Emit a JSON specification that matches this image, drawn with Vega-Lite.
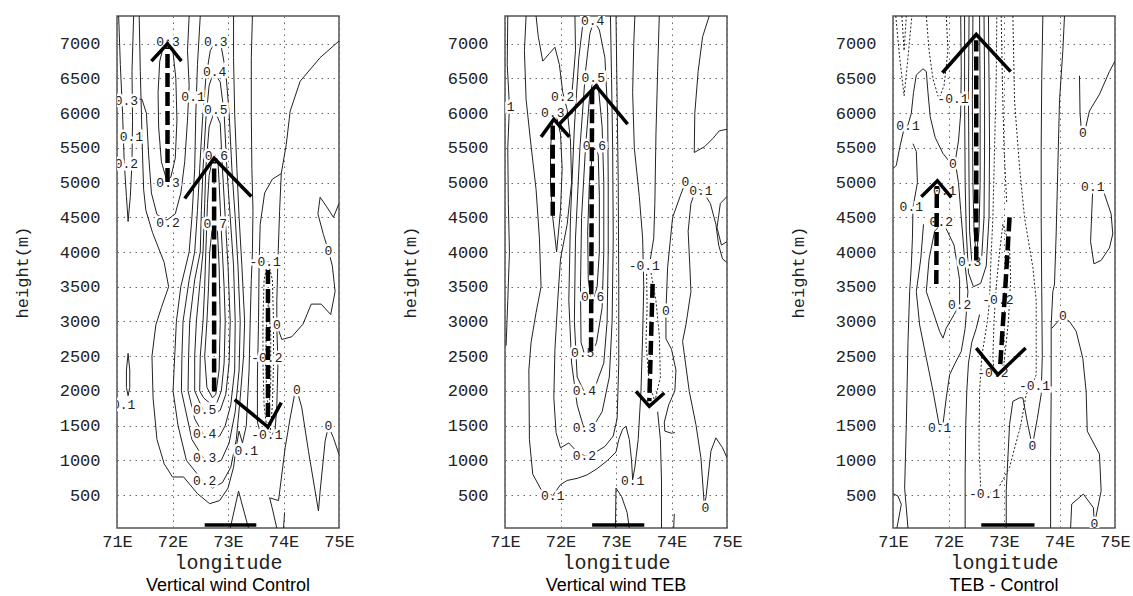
{
"$schema": "https://vega.github.io/schema/vega-lite/v6.json",
"autosize": {"type": "pad"},
"padding": {"left": 12, "top": 15, "right": 2, "bottom": 0},
"background": "white",
"spacing": 166,
"bounds": "flush",
"config": {
  "view": {"stroke": "#555", "strokeWidth": 1.5},
  "axis": {"domain": false, "ticks": false, "grid": true, "gridColor": "#666", "gridDash": [1.5, 4.5], "gridWidth": 1, "labelFont": "Liberation Mono", "labelFontSize": 17, "labelColor": "#222", "titleFont": "Liberation Mono", "titleFontWeight": "normal", "titleColor": "#222", "labelOverlap": false},
  "axisX": {"labelPadding": 5, "titleFontSize": 20, "titlePadding": 3, "labelFlush": false},
  "axisY": {"labelPadding": 17, "titleFontSize": 17, "titleX": -95, "titleY": 256, "titleAlign": "center", "titleBaseline": "middle", "format": "d"},
  "title": {"font": "Liberation Sans", "fontSize": 18, "fontWeight": "normal", "color": "#000", "offset": 5}
},
"datasets": {
"cl": [
{"p":1,"g":"a","x":71.03,"y":7400},{"p":1,"g":"a","x":71.06,"y":6700},{"p":1,"g":"a","x":71.1,"y":6000},{"p":1,"g":"a","x":71.13,"y":5300},{"p":1,"g":"a","x":71.17,"y":4800},{"p":1,"g":"a","x":71.2,"y":4440},{"p":1,"g":"a","x":71.24,"y":4800},{"p":1,"g":"a","x":71.27,"y":5300},{"p":1,"g":"a","x":71.28,"y":5900},{"p":1,"g":"a","x":71.27,"y":6600},{"p":1,"g":"a","x":71.3,"y":7400},
{"p":1,"g":"b","x":71.33,"y":6210},{"p":1,"g":"b","x":71.45,"y":6200},{"p":1,"g":"b","x":71.53,"y":6000},{"p":1,"g":"b","x":71.57,"y":5400},{"p":1,"g":"b","x":71.62,"y":4850},{"p":1,"g":"b","x":71.72,"y":4540},{"p":1,"g":"b","x":71.9,"y":4460},{"p":1,"g":"b","x":72.05,"y":4550},{"p":1,"g":"b","x":72.15,"y":4850},{"p":1,"g":"b","x":72.22,"y":5300},{"p":1,"g":"b","x":72.27,"y":5900},{"p":1,"g":"b","x":72.3,"y":6400},{"p":1,"g":"b","x":72.27,"y":6900},{"p":1,"g":"b","x":72.3,"y":7400},
{"p":1,"g":"c","x":71.9,"y":5020},{"p":1,"g":"c","x":71.8,"y":5300},{"p":1,"g":"c","x":71.75,"y":5800},{"p":1,"g":"c","x":71.74,"y":6300},{"p":1,"g":"c","x":71.77,"y":6750},{"p":1,"g":"c","x":71.85,"y":7000},{"p":1,"g":"c","x":71.92,"y":7060},{"p":1,"g":"c","x":72.0,"y":6950},{"p":1,"g":"c","x":72.06,"y":6500},{"p":1,"g":"c","x":72.08,"y":5900},{"p":1,"g":"c","x":72.05,"y":5350},{"p":1,"g":"c","x":71.97,"y":5080},{"p":1,"g":"c","x":71.9,"y":5020},
{"p":1,"g":"d","x":71.2,"y":2540},{"p":1,"g":"d","x":71.17,"y":2300},{"p":1,"g":"d","x":71.17,"y":2050},{"p":1,"g":"d","x":71.2,"y":1930},{"p":1,"g":"d","x":71.23,"y":2050},{"p":1,"g":"d","x":71.23,"y":2300},{"p":1,"g":"d","x":71.2,"y":2540},
{"p":1,"g":"e","x":72.72,"y":1900},{"p":1,"g":"e","x":72.62,"y":2050},{"p":1,"g":"e","x":72.58,"y":2500},{"p":1,"g":"e","x":72.62,"y":3000},{"p":1,"g":"e","x":72.65,"y":3500},{"p":1,"g":"e","x":72.67,"y":4000},{"p":1,"g":"e","x":72.71,"y":4300},{"p":1,"g":"e","x":72.76,"y":4400},{"p":1,"g":"e","x":72.81,"y":4300},{"p":1,"g":"e","x":72.84,"y":3800},{"p":1,"g":"e","x":72.86,"y":3000},{"p":1,"g":"e","x":72.84,"y":2300},{"p":1,"g":"e","x":72.78,"y":1950},{"p":1,"g":"e","x":72.72,"y":1900},
{"p":1,"g":"f","x":72.72,"y":1790},{"p":1,"g":"f","x":72.56,"y":1900},{"p":1,"g":"f","x":72.49,"y":2000},{"p":1,"g":"f","x":72.5,"y":2500},{"p":1,"g":"f","x":72.55,"y":3000},{"p":1,"g":"f","x":72.58,"y":3500},{"p":1,"g":"f","x":72.6,"y":4000},{"p":1,"g":"f","x":72.63,"y":4700},{"p":1,"g":"f","x":72.66,"y":5100},{"p":1,"g":"f","x":72.72,"y":5350},{"p":1,"g":"f","x":72.77,"y":5390},{"p":1,"g":"f","x":72.82,"y":5300},{"p":1,"g":"f","x":72.84,"y":5000},{"p":1,"g":"f","x":72.88,"y":4300},{"p":1,"g":"f","x":72.93,"y":3500},{"p":1,"g":"f","x":72.95,"y":3000},{"p":1,"g":"f","x":72.93,"y":2400},{"p":1,"g":"f","x":72.88,"y":2000},{"p":1,"g":"f","x":72.8,"y":1830},{"p":1,"g":"f","x":72.72,"y":1790},
{"p":1,"g":"g","x":72.7,"y":1650},{"p":1,"g":"g","x":72.55,"y":1720},{"p":1,"g":"g","x":72.4,"y":2000},{"p":1,"g":"g","x":72.4,"y":2500},{"p":1,"g":"g","x":72.43,"y":3000},{"p":1,"g":"g","x":72.5,"y":3600},{"p":1,"g":"g","x":72.55,"y":4000},{"p":1,"g":"g","x":72.58,"y":4700},{"p":1,"g":"g","x":72.6,"y":5200},{"p":1,"g":"g","x":72.66,"y":5800},{"p":1,"g":"g","x":72.76,"y":6040},{"p":1,"g":"g","x":72.86,"y":5850},{"p":1,"g":"g","x":72.9,"y":5200},{"p":1,"g":"g","x":72.95,"y":4500},{"p":1,"g":"g","x":73.0,"y":3800},{"p":1,"g":"g","x":73.04,"y":3000},{"p":1,"g":"g","x":73.02,"y":2400},{"p":1,"g":"g","x":72.96,"y":1950},{"p":1,"g":"g","x":72.86,"y":1720},{"p":1,"g":"g","x":72.7,"y":1650},
{"p":1,"g":"h","x":72.72,"y":1300},{"p":1,"g":"h","x":72.55,"y":1380},{"p":1,"g":"h","x":72.4,"y":1600},{"p":1,"g":"h","x":72.28,"y":2000},{"p":1,"g":"h","x":72.29,"y":2500},{"p":1,"g":"h","x":72.31,"y":3000},{"p":1,"g":"h","x":72.4,"y":3600},{"p":1,"g":"h","x":72.5,"y":4000},{"p":1,"g":"h","x":72.52,"y":4600},{"p":1,"g":"h","x":72.55,"y":5200},{"p":1,"g":"h","x":72.6,"y":5900},{"p":1,"g":"h","x":72.66,"y":6400},{"p":1,"g":"h","x":72.74,"y":6590},{"p":1,"g":"h","x":72.86,"y":6450},{"p":1,"g":"h","x":72.93,"y":6000},{"p":1,"g":"h","x":72.98,"y":5200},{"p":1,"g":"h","x":73.04,"y":4500},{"p":1,"g":"h","x":73.1,"y":3800},{"p":1,"g":"h","x":73.13,"y":3000},{"p":1,"g":"h","x":73.12,"y":2300},{"p":1,"g":"h","x":73.05,"y":1800},{"p":1,"g":"h","x":72.95,"y":1500},{"p":1,"g":"h","x":72.85,"y":1350},{"p":1,"g":"h","x":72.72,"y":1300},
{"p":1,"g":"i","x":72.72,"y":950},{"p":1,"g":"i","x":72.55,"y":1040},{"p":1,"g":"i","x":72.35,"y":1300},{"p":1,"g":"i","x":72.16,"y":2000},{"p":1,"g":"i","x":72.17,"y":2500},{"p":1,"g":"i","x":72.19,"y":3000},{"p":1,"g":"i","x":72.3,"y":3600},{"p":1,"g":"i","x":72.4,"y":4000},{"p":1,"g":"i","x":72.45,"y":4600},{"p":1,"g":"i","x":72.49,"y":5200},{"p":1,"g":"i","x":72.54,"y":5900},{"p":1,"g":"i","x":72.6,"y":6500},{"p":1,"g":"i","x":72.68,"y":6900},{"p":1,"g":"i","x":72.76,"y":7020},{"p":1,"g":"i","x":72.88,"y":6950},{"p":1,"g":"i","x":72.96,"y":6600},{"p":1,"g":"i","x":73.02,"y":6000},{"p":1,"g":"i","x":73.07,"y":5200},{"p":1,"g":"i","x":73.13,"y":4500},{"p":1,"g":"i","x":73.18,"y":3800},{"p":1,"g":"i","x":73.22,"y":3000},{"p":1,"g":"i","x":73.2,"y":2300},{"p":1,"g":"i","x":73.13,"y":1700},{"p":1,"g":"i","x":73.02,"y":1250},{"p":1,"g":"i","x":72.88,"y":1000},{"p":1,"g":"i","x":72.72,"y":950},
{"p":1,"g":"j","x":72.5,"y":7400},{"p":1,"g":"j","x":72.45,"y":6700},{"p":1,"g":"j","x":72.42,"y":6000},{"p":1,"g":"j","x":72.4,"y":5200},{"p":1,"g":"j","x":72.35,"y":4500},{"p":1,"g":"j","x":72.3,"y":4000},{"p":1,"g":"j","x":72.15,"y":3500},{"p":1,"g":"j","x":72.07,"y":3000},{"p":1,"g":"j","x":72.01,"y":2000},{"p":1,"g":"j","x":72.1,"y":1500},{"p":1,"g":"j","x":72.25,"y":1000},{"p":1,"g":"j","x":72.55,"y":700},{"p":1,"g":"j","x":72.72,"y":600},{"p":1,"g":"j","x":72.9,"y":680},{"p":1,"g":"j","x":73.05,"y":900},{"p":1,"g":"j","x":73.15,"y":1300},{"p":1,"g":"j","x":73.22,"y":1900},{"p":1,"g":"j","x":73.28,"y":2500},{"p":1,"g":"j","x":73.3,"y":3000},{"p":1,"g":"j","x":73.25,"y":3800},{"p":1,"g":"j","x":73.2,"y":4500},{"p":1,"g":"j","x":73.16,"y":5200},{"p":1,"g":"j","x":73.12,"y":6000},{"p":1,"g":"j","x":73.1,"y":6800},{"p":1,"g":"j","x":73.1,"y":7400},
{"p":1,"g":"k","x":71.4,"y":7400},{"p":1,"g":"k","x":71.42,"y":6600},{"p":1,"g":"k","x":71.44,"y":6000},{"p":1,"g":"k","x":71.46,"y":5400},{"p":1,"g":"k","x":71.48,"y":4900},{"p":1,"g":"k","x":71.52,"y":4600},{"p":1,"g":"k","x":71.64,"y":4280},{"p":1,"g":"k","x":71.85,"y":3850},{"p":1,"g":"k","x":71.93,"y":3500},{"p":1,"g":"k","x":71.8,"y":3200},{"p":1,"g":"k","x":71.7,"y":2950},{"p":1,"g":"k","x":71.63,"y":2500},{"p":1,"g":"k","x":71.65,"y":1900},{"p":1,"g":"k","x":71.72,"y":1300},{"p":1,"g":"k","x":71.85,"y":950},{"p":1,"g":"k","x":72.0,"y":760},{"p":1,"g":"k","x":72.2,"y":760},{"p":1,"g":"k","x":72.45,"y":520},{"p":1,"g":"k","x":72.67,"y":375},{"p":1,"g":"k","x":72.85,"y":420},{"p":1,"g":"k","x":73.0,"y":600},{"p":1,"g":"k","x":73.1,"y":900},{"p":1,"g":"k","x":73.15,"y":1200},{"p":1,"g":"k","x":73.2,"y":1420},{"p":1,"g":"k","x":73.26,"y":1250},{"p":1,"g":"k","x":73.33,"y":1500},{"p":1,"g":"k","x":73.38,"y":2300},{"p":1,"g":"k","x":73.4,"y":3000},{"p":1,"g":"k","x":73.42,"y":3600},{"p":1,"g":"k","x":73.44,"y":4000},{"p":1,"g":"k","x":73.45,"y":4600},{"p":1,"g":"k","x":73.43,"y":5200},{"p":1,"g":"k","x":73.42,"y":6000},{"p":1,"g":"k","x":73.42,"y":6800},{"p":1,"g":"k","x":73.44,"y":7400},
{"p":1,"g":"l","x":75,"y":7040},{"p":1,"g":"l","x":74.66,"y":6800},{"p":1,"g":"l","x":74.3,"y":6460},{"p":1,"g":"l","x":74.12,"y":6030},{"p":1,"g":"l","x":74.05,"y":5550},{"p":1,"g":"l","x":73.96,"y":5130},{"p":1,"g":"l","x":73.93,"y":4600},{"p":1,"g":"l","x":73.9,"y":3900},{"p":1,"g":"l","x":73.88,"y":3300},{"p":1,"g":"l","x":73.88,"y":3000},
{"p":1,"g":"m","x":73.88,"y":2900},{"p":1,"g":"m","x":73.9,"y":2400},{"p":1,"g":"m","x":73.88,"y":1800},{"p":1,"g":"m","x":73.85,"y":1450},{"p":1,"g":"m","x":73.75,"y":1300},{"p":1,"g":"m","x":73.6,"y":1350},{"p":1,"g":"m","x":73.53,"y":1550},{"p":1,"g":"m","x":73.53,"y":2200},{"p":1,"g":"m","x":73.55,"y":3000},{"p":1,"g":"m","x":73.56,"y":3800},{"p":1,"g":"m","x":73.58,"y":4400},{"p":1,"g":"m","x":73.66,"y":4850},{"p":1,"g":"m","x":73.8,"y":5050},{"p":1,"g":"m","x":73.96,"y":5130},
{"p":1,"g":"n","x":73.9,"y":2900},{"p":1,"g":"n","x":73.97,"y":2740},{"p":1,"g":"n","x":74.15,"y":2780},{"p":1,"g":"n","x":74.35,"y":2960},{"p":1,"g":"n","x":74.5,"y":3250},{"p":1,"g":"n","x":74.68,"y":3250},{"p":1,"g":"n","x":74.85,"y":3100},{"p":1,"g":"n","x":74.93,"y":3431},{"p":1,"g":"n","x":74.88,"y":3800},{"p":1,"g":"n","x":74.81,"y":4021},{"p":1,"g":"n","x":74.72,"y":4250},{"p":1,"g":"n","x":74.62,"y":4550},{"p":1,"g":"n","x":74.66,"y":4790},{"p":1,"g":"n","x":74.78,"y":4650},{"p":1,"g":"n","x":74.9,"y":4500},{"p":1,"g":"n","x":75,"y":4700},
{"p":1,"g":"o","x":73.88,"y":20},{"p":1,"g":"o","x":73.8,"y":300},{"p":1,"g":"o","x":73.75,"y":460},{"p":1,"g":"o","x":73.91,"y":420},{"p":1,"g":"o","x":74.03,"y":1180},{"p":1,"g":"o","x":74.12,"y":1610},{"p":1,"g":"o","x":74.21,"y":1990},{"p":1,"g":"o","x":74.24,"y":2020},{"p":1,"g":"o","x":74.33,"y":1755},{"p":1,"g":"o","x":74.45,"y":1130},{"p":1,"g":"o","x":74.57,"y":557},{"p":1,"g":"o","x":74.63,"y":270},{"p":1,"g":"o","x":74.66,"y":557},{"p":1,"g":"o","x":74.75,"y":1276},{"p":1,"g":"o","x":74.81,"y":1491},{"p":1,"g":"o","x":74.9,"y":1324},{"p":1,"g":"o","x":75,"y":1084},
{"p":1,"g":"q","x":73.04,"y":20},{"p":1,"g":"q","x":73.19,"y":557},{"p":1,"g":"q","x":73.37,"y":20},
{"p":1,"g":"r","x":74.0,"y":20},{"p":1,"g":"r","x":74.02,"y":250},

{"p":2,"g":"a","x":71.05,"y":7400},{"p":2,"g":"a","x":71.04,"y":6700},{"p":2,"g":"a","x":71.08,"y":6100},{"p":2,"g":"a","x":71.05,"y":5500},{"p":2,"g":"a","x":71.06,"y":4700},{"p":2,"g":"a","x":71.08,"y":4000},{"p":2,"g":"a","x":71.05,"y":3300},{"p":2,"g":"a","x":71.02,"y":2650},
{"p":2,"g":"b","x":71.38,"y":7400},{"p":2,"g":"b","x":71.35,"y":6900},{"p":2,"g":"b","x":71.38,"y":6200},{"p":2,"g":"b","x":71.46,"y":5600},{"p":2,"g":"b","x":71.56,"y":4900},{"p":2,"g":"b","x":71.62,"y":4200},{"p":2,"g":"b","x":71.65,"y":3500},{"p":2,"g":"b","x":71.56,"y":3130},{"p":2,"g":"b","x":71.47,"y":2700},{"p":2,"g":"b","x":71.43,"y":2300},{"p":2,"g":"b","x":71.44,"y":1300},{"p":2,"g":"b","x":71.5,"y":800},{"p":2,"g":"b","x":71.65,"y":580},{"p":2,"g":"b","x":71.86,"y":490},{"p":2,"g":"b","x":72.0,"y":650},{"p":2,"g":"b","x":72.12,"y":710},{"p":2,"g":"b","x":72.3,"y":740},{"p":2,"g":"b","x":72.48,"y":790},{"p":2,"g":"b","x":72.66,"y":880},{"p":2,"g":"b","x":72.85,"y":1000},{"p":2,"g":"b","x":73.0,"y":1120},{"p":2,"g":"b","x":73.05,"y":1300},{"p":2,"g":"b","x":73.12,"y":1450},{"p":2,"g":"b","x":73.18,"y":1490},{"p":2,"g":"b","x":73.24,"y":1300},{"p":2,"g":"b","x":73.28,"y":1000},{"p":2,"g":"b","x":73.3,"y":720},{"p":2,"g":"b","x":73.34,"y":900},{"p":2,"g":"b","x":73.4,"y":1300},{"p":2,"g":"b","x":73.45,"y":2000},{"p":2,"g":"b","x":73.48,"y":2800},{"p":2,"g":"b","x":73.5,"y":3500},{"p":2,"g":"b","x":73.48,"y":4200},{"p":2,"g":"b","x":73.42,"y":4800},{"p":2,"g":"b","x":73.33,"y":5500},{"p":2,"g":"b","x":73.3,"y":6300},{"p":2,"g":"b","x":73.32,"y":7000},{"p":2,"g":"b","x":73.34,"y":7400},
{"p":2,"g":"c","x":71.56,"y":7400},{"p":2,"g":"c","x":71.6,"y":7100},{"p":2,"g":"c","x":71.68,"y":6750},{"p":2,"g":"c","x":71.8,"y":6860},{"p":2,"g":"c","x":71.9,"y":6950},{"p":2,"g":"c","x":71.98,"y":6700},{"p":2,"g":"c","x":72.04,"y":6300},{"p":2,"g":"c","x":72.12,"y":6050},{"p":2,"g":"c","x":72.18,"y":5600},{"p":2,"g":"c","x":72.2,"y":5000},{"p":2,"g":"c","x":72.12,"y":4400},{"p":2,"g":"c","x":72.0,"y":3900},{"p":2,"g":"c","x":71.95,"y":3300},{"p":2,"g":"c","x":71.9,"y":2600},{"p":2,"g":"c","x":71.88,"y":1900},{"p":2,"g":"c","x":71.92,"y":1400},{"p":2,"g":"c","x":72.0,"y":1180},{"p":2,"g":"c","x":72.15,"y":1250},{"p":2,"g":"c","x":72.3,"y":1120},{"p":2,"g":"c","x":72.45,"y":1060},{"p":2,"g":"c","x":72.6,"y":1100},{"p":2,"g":"c","x":72.8,"y":1200},{"p":2,"g":"c","x":72.95,"y":1350},{"p":2,"g":"c","x":73.02,"y":1600},{"p":2,"g":"c","x":73.05,"y":2400},{"p":2,"g":"c","x":73.05,"y":3500},{"p":2,"g":"c","x":73.04,"y":5000},{"p":2,"g":"c","x":73.02,"y":6200},{"p":2,"g":"c","x":73.0,"y":7400},
{"p":2,"g":"d","x":71.93,"y":4000},{"p":2,"g":"d","x":71.86,"y":4500},{"p":2,"g":"d","x":71.82,"y":5000},{"p":2,"g":"d","x":71.82,"y":5500},{"p":2,"g":"d","x":71.86,"y":5900},{"p":2,"g":"d","x":71.93,"y":5950},{"p":2,"g":"d","x":72.0,"y":5700},{"p":2,"g":"d","x":72.03,"y":5200},{"p":2,"g":"d","x":72.0,"y":4600},{"p":2,"g":"d","x":71.93,"y":4000},
{"p":2,"g":"e","x":72.55,"y":3300},{"p":2,"g":"e","x":72.5,"y":3600},{"p":2,"g":"e","x":72.49,"y":4300},{"p":2,"g":"e","x":72.52,"y":5000},{"p":2,"g":"e","x":72.58,"y":5450},{"p":2,"g":"e","x":72.62,"y":5530},{"p":2,"g":"e","x":72.68,"y":5400},{"p":2,"g":"e","x":72.7,"y":4800},{"p":2,"g":"e","x":72.7,"y":4000},{"p":2,"g":"e","x":72.66,"y":3500},{"p":2,"g":"e","x":72.6,"y":3320},{"p":2,"g":"e","x":72.55,"y":3300},
{"p":2,"g":"f","x":72.45,"y":2480},{"p":2,"g":"f","x":72.37,"y":2700},{"p":2,"g":"f","x":72.36,"y":3500},{"p":2,"g":"f","x":72.38,"y":4500},{"p":2,"g":"f","x":72.45,"y":5500},{"p":2,"g":"f","x":72.52,"y":6200},{"p":2,"g":"f","x":72.59,"y":6500},{"p":2,"g":"f","x":72.68,"y":6400},{"p":2,"g":"f","x":72.75,"y":5800},{"p":2,"g":"f","x":72.78,"y":5000},{"p":2,"g":"f","x":72.78,"y":4000},{"p":2,"g":"f","x":72.75,"y":3200},{"p":2,"g":"f","x":72.65,"y":2700},{"p":2,"g":"f","x":72.55,"y":2500},{"p":2,"g":"f","x":72.45,"y":2480},
{"p":2,"g":"g","x":72.45,"y":1950},{"p":2,"g":"g","x":72.3,"y":2200},{"p":2,"g":"g","x":72.25,"y":3000},{"p":2,"g":"g","x":72.27,"y":4200},{"p":2,"g":"g","x":72.35,"y":5500},{"p":2,"g":"g","x":72.45,"y":6600},{"p":2,"g":"g","x":72.53,"y":7150},{"p":2,"g":"g","x":72.6,"y":7330},{"p":2,"g":"g","x":72.7,"y":7200},{"p":2,"g":"g","x":72.8,"y":6800},{"p":2,"g":"g","x":72.85,"y":6000},{"p":2,"g":"g","x":72.86,"y":5000},{"p":2,"g":"g","x":72.86,"y":4000},{"p":2,"g":"g","x":72.84,"y":3000},{"p":2,"g":"g","x":72.78,"y":2400},{"p":2,"g":"g","x":72.62,"y":2050},{"p":2,"g":"g","x":72.45,"y":1950},
{"p":2,"g":"h","x":72.42,"y":7400},{"p":2,"g":"h","x":72.33,"y":6800},{"p":2,"g":"h","x":72.25,"y":5800},{"p":2,"g":"h","x":72.18,"y":4500},{"p":2,"g":"h","x":72.15,"y":3300},{"p":2,"g":"h","x":72.2,"y":2400},{"p":2,"g":"h","x":72.3,"y":1800},{"p":2,"g":"h","x":72.43,"y":1440},{"p":2,"g":"h","x":72.6,"y":1500},{"p":2,"g":"h","x":72.75,"y":1700},{"p":2,"g":"h","x":72.88,"y":2200},{"p":2,"g":"h","x":72.93,"y":3000},{"p":2,"g":"h","x":72.95,"y":4200},{"p":2,"g":"h","x":72.94,"y":5500},{"p":2,"g":"h","x":72.92,"y":6500},{"p":2,"g":"h","x":72.9,"y":7400},
{"p":2,"g":"i","x":72.26,"y":7400},{"p":2,"g":"i","x":72.27,"y":6900},{"p":2,"g":"i","x":72.23,"y":6500},{"p":2,"g":"i","x":72.2,"y":6250},
{"p":2,"g":"k","x":73.78,"y":7400},{"p":2,"g":"k","x":73.75,"y":6600},{"p":2,"g":"k","x":73.72,"y":5700},{"p":2,"g":"k","x":73.7,"y":4700},{"p":2,"g":"k","x":73.68,"y":4200},{"p":2,"g":"k","x":73.62,"y":3900},
{"p":2,"g":"m","x":74.25,"y":5003},{"p":2,"g":"m","x":74.17,"y":4835},{"p":2,"g":"m","x":74.02,"y":4500},{"p":2,"g":"m","x":73.93,"y":3781},{"p":2,"g":"m","x":73.9,"y":3144},{"p":2,"g":"m","x":73.9,"y":2750},{"p":2,"g":"m","x":74.0,"y":2600},{"p":2,"g":"m","x":74.08,"y":2300},{"p":2,"g":"m","x":74.06,"y":2000},{"p":2,"g":"m","x":73.95,"y":1800},{"p":2,"g":"m","x":73.87,"y":1550},{"p":2,"g":"m","x":73.88,"y":1420},{"p":2,"g":"m","x":74.0,"y":1390},{"p":2,"g":"m","x":74.06,"y":1400},
{"p":2,"g":"n","x":75,"y":1036},{"p":2,"g":"n","x":74.92,"y":1180},{"p":2,"g":"n","x":74.8,"y":1324},{"p":2,"g":"n","x":74.71,"y":1132},{"p":2,"g":"n","x":74.62,"y":461},{"p":2,"g":"n","x":74.59,"y":365},{"p":2,"g":"n","x":74.53,"y":1036},{"p":2,"g":"n","x":74.44,"y":1515},{"p":2,"g":"n","x":74.32,"y":1994},{"p":2,"g":"n","x":74.2,"y":2713},{"p":2,"g":"n","x":74.26,"y":2952},{"p":2,"g":"n","x":74.35,"y":3431},{"p":2,"g":"n","x":74.33,"y":3800},{"p":2,"g":"n","x":74.3,"y":4300},{"p":2,"g":"n","x":74.35,"y":4700},{"p":2,"g":"n","x":74.45,"y":4920},{"p":2,"g":"n","x":74.56,"y":4880},{"p":2,"g":"n","x":74.7,"y":4700},{"p":2,"g":"n","x":74.8,"y":4400},{"p":2,"g":"n","x":74.85,"y":4100},{"p":2,"g":"n","x":74.92,"y":3900},{"p":2,"g":"n","x":75,"y":3850},
{"p":2,"g":"o","x":75,"y":4800},{"p":2,"g":"o","x":74.88,"y":4700},{"p":2,"g":"o","x":74.82,"y":4350},{"p":2,"g":"o","x":74.9,"y":4100},{"p":2,"g":"o","x":75,"y":4150},
{"p":2,"g":"pp","x":74.68,"y":7400},{"p":2,"g":"pp","x":74.56,"y":7100},{"p":2,"g":"pp","x":74.48,"y":6600},{"p":2,"g":"pp","x":74.42,"y":6000},{"p":2,"g":"pp","x":74.41,"y":5434},{"p":2,"g":"pp","x":74.6,"y":5520},{"p":2,"g":"pp","x":74.75,"y":5640},{"p":2,"g":"pp","x":74.86,"y":5745},{"p":2,"g":"pp","x":75,"y":5769},
{"p":2,"g":"q","x":72.99,"y":20},{"p":2,"g":"q","x":73.0,"y":600},{"p":2,"g":"q","x":73.1,"y":480},{"p":2,"g":"q","x":73.2,"y":250},{"p":2,"g":"q","x":73.24,"y":20},
{"p":2,"g":"r","x":73.82,"y":20},{"p":2,"g":"r","x":73.82,"y":700},{"p":2,"g":"r","x":73.8,"y":1300},{"p":2,"g":"r","x":73.75,"y":1700},
{"p":2,"g":"s","x":74.04,"y":20},{"p":2,"g":"s","x":74.05,"y":230},

{"p":3,"g":"a","x":71.0,"y":5200},{"p":3,"g":"a","x":71.06,"y":5250},{"p":3,"g":"a","x":71.12,"y":5500},{"p":3,"g":"a","x":71.2,"y":5780},{"p":3,"g":"a","x":71.27,"y":5830},{"p":3,"g":"a","x":71.33,"y":6000},{"p":3,"g":"a","x":71.37,"y":6300},{"p":3,"g":"a","x":71.42,"y":6550},{"p":3,"g":"a","x":71.54,"y":6640},{"p":3,"g":"a","x":71.6,"y":6600},{"p":3,"g":"a","x":71.63,"y":6300},{"p":3,"g":"a","x":71.67,"y":5950},{"p":3,"g":"a","x":71.76,"y":5650},{"p":3,"g":"a","x":71.9,"y":5420},{"p":3,"g":"a","x":72.05,"y":5270},{"p":3,"g":"a","x":72.12,"y":5300},{"p":3,"g":"a","x":72.18,"y":5600},{"p":3,"g":"a","x":72.22,"y":6000},{"p":3,"g":"a","x":72.23,"y":6600},{"p":3,"g":"a","x":72.22,"y":7400},
{"p":3,"g":"b","x":71.36,"y":5560},{"p":3,"g":"b","x":71.42,"y":5450},{"p":3,"g":"b","x":71.44,"y":5000},{"p":3,"g":"b","x":71.36,"y":4640},{"p":3,"g":"b","x":71.35,"y":4200},{"p":3,"g":"b","x":71.33,"y":3800},{"p":3,"g":"b","x":71.3,"y":3431},{"p":3,"g":"b","x":71.27,"y":2700},{"p":3,"g":"b","x":71.24,"y":1515},{"p":3,"g":"b","x":71.21,"y":600},{"p":3,"g":"b","x":71.27,"y":20},
{"p":3,"g":"c","x":71.0,"y":520},{"p":3,"g":"c","x":71.09,"y":485},{"p":3,"g":"c","x":71.15,"y":366},{"p":3,"g":"c","x":71.07,"y":20},
{"p":3,"g":"d","x":71.55,"y":4400},{"p":3,"g":"d","x":71.5,"y":3900},{"p":3,"g":"d","x":71.42,"y":3431},{"p":3,"g":"d","x":71.48,"y":2950},{"p":3,"g":"d","x":71.6,"y":2473},{"p":3,"g":"d","x":71.72,"y":2000},{"p":3,"g":"d","x":71.83,"y":1515},{"p":3,"g":"d","x":71.9,"y":1515},{"p":3,"g":"d","x":71.96,"y":1900},{"p":3,"g":"d","x":72.02,"y":2234},{"p":3,"g":"d","x":72.12,"y":2400},{"p":3,"g":"d","x":72.23,"y":2569},{"p":3,"g":"d","x":72.3,"y":2900},{"p":3,"g":"d","x":72.35,"y":3431},{"p":3,"g":"d","x":72.3,"y":3800},{"p":3,"g":"d","x":72.26,"y":4200},{"p":3,"g":"d","x":72.22,"y":4600},{"p":3,"g":"d","x":72.18,"y":5000},{"p":3,"g":"d","x":72.14,"y":5200},
{"p":3,"g":"e","x":71.9,"y":4430},{"p":3,"g":"e","x":71.75,"y":4300},{"p":3,"g":"e","x":71.65,"y":3900},{"p":3,"g":"e","x":71.6,"y":3431},{"p":3,"g":"e","x":71.72,"y":3144},{"p":3,"g":"e","x":71.84,"y":2856},{"p":3,"g":"e","x":71.9,"y":2760},{"p":3,"g":"e","x":71.96,"y":2904},{"p":3,"g":"e","x":72.1,"y":3100},{"p":3,"g":"e","x":72.2,"y":3240},{"p":3,"g":"e","x":72.2,"y":3600},{"p":3,"g":"e","x":72.1,"y":4100},{"p":3,"g":"e","x":71.9,"y":4430},
{"p":3,"g":"f","x":72.44,"y":7400},{"p":3,"g":"f","x":72.43,"y":6200},{"p":3,"g":"f","x":72.44,"y":5000},{"p":3,"g":"f","x":72.46,"y":4300},{"p":3,"g":"f","x":72.5,"y":3950},{"p":3,"g":"f","x":72.55,"y":4300},{"p":3,"g":"f","x":72.57,"y":5000},{"p":3,"g":"f","x":72.57,"y":6200},{"p":3,"g":"f","x":72.56,"y":7400},
{"p":3,"g":"g","x":72.37,"y":7400},{"p":3,"g":"g","x":72.36,"y":6200},{"p":3,"g":"g","x":72.37,"y":5000},{"p":3,"g":"g","x":72.38,"y":4300},{"p":3,"g":"g","x":72.42,"y":3860},{"p":3,"g":"g","x":72.5,"y":3800},{"p":3,"g":"g","x":72.6,"y":3950},{"p":3,"g":"g","x":72.64,"y":4500},{"p":3,"g":"g","x":72.65,"y":5500},{"p":3,"g":"g","x":72.65,"y":6500},{"p":3,"g":"g","x":72.64,"y":7400},
{"p":3,"g":"h","x":72.29,"y":7400},{"p":3,"g":"h","x":72.29,"y":6200},{"p":3,"g":"h","x":72.3,"y":5000},{"p":3,"g":"h","x":72.32,"y":4300},{"p":3,"g":"h","x":72.36,"y":3700},{"p":3,"g":"h","x":72.45,"y":3500},{"p":3,"g":"h","x":72.58,"y":3550},{"p":3,"g":"h","x":72.68,"y":3800},{"p":3,"g":"h","x":72.73,"y":4500},{"p":3,"g":"h","x":72.74,"y":5500},{"p":3,"g":"h","x":72.73,"y":6500},{"p":3,"g":"h","x":72.72,"y":7400},
{"p":3,"g":"i","x":73.04,"y":20},{"p":3,"g":"i","x":73.04,"y":557},{"p":3,"g":"i","x":73.1,"y":1515},{"p":3,"g":"i","x":73.16,"y":1850},{"p":3,"g":"i","x":73.28,"y":1900},{"p":3,"g":"i","x":73.34,"y":1900},{"p":3,"g":"i","x":73.42,"y":1550},{"p":3,"g":"i","x":73.51,"y":1204},{"p":3,"g":"i","x":73.6,"y":1600},{"p":3,"g":"i","x":73.67,"y":1950},{"p":3,"g":"i","x":73.69,"y":2500},{"p":3,"g":"i","x":73.68,"y":3431},{"p":3,"g":"i","x":73.67,"y":4500},{"p":3,"g":"i","x":73.67,"y":5500},{"p":3,"g":"i","x":73.68,"y":6500},{"p":3,"g":"i","x":73.7,"y":7400},
{"p":3,"g":"j","x":72.3,"y":20},{"p":3,"g":"j","x":72.3,"y":800},{"p":3,"g":"j","x":72.31,"y":1500},{"p":3,"g":"j","x":72.33,"y":2000},{"p":3,"g":"j","x":72.36,"y":2400},{"p":3,"g":"j","x":72.42,"y":2700},{"p":3,"g":"j","x":72.5,"y":2900},{"p":3,"g":"j","x":72.56,"y":3100},
{"p":3,"g":"k","x":74.09,"y":7400},{"p":3,"g":"k","x":74.06,"y":6900},{"p":3,"g":"k","x":74.0,"y":6180},{"p":3,"g":"k","x":73.97,"y":5220},{"p":3,"g":"k","x":73.94,"y":4260},{"p":3,"g":"k","x":73.91,"y":3540},{"p":3,"g":"k","x":73.88,"y":3430},{"p":3,"g":"k","x":73.85,"y":2950},{"p":3,"g":"k","x":73.85,"y":1990},{"p":3,"g":"k","x":73.84,"y":1036},{"p":3,"g":"k","x":73.84,"y":20},
{"p":3,"g":"l","x":73.86,"y":2900},{"p":3,"g":"l","x":73.96,"y":2990},{"p":3,"g":"l","x":74.06,"y":3072},{"p":3,"g":"l","x":74.18,"y":3000},{"p":3,"g":"l","x":74.3,"y":2860},{"p":3,"g":"l","x":74.42,"y":2470},{"p":3,"g":"l","x":74.48,"y":1990},{"p":3,"g":"l","x":74.5,"y":1420},{"p":3,"g":"l","x":74.72,"y":1089},{"p":3,"g":"l","x":74.75,"y":557},{"p":3,"g":"l","x":74.63,"y":83},
{"p":3,"g":"m","x":74.2,"y":20},{"p":3,"g":"m","x":74.22,"y":370},{"p":3,"g":"m","x":74.43,"y":514},{"p":3,"g":"m","x":74.61,"y":318},{"p":3,"g":"m","x":74.63,"y":83},
{"p":3,"g":"n","x":74.36,"y":6540},{"p":3,"g":"n","x":74.37,"y":6000},{"p":3,"g":"n","x":74.39,"y":5793},{"p":3,"g":"n","x":74.45,"y":5721},{"p":3,"g":"n","x":74.54,"y":6033},{"p":3,"g":"n","x":74.72,"y":6272},{"p":3,"g":"n","x":74.9,"y":6600},{"p":3,"g":"n","x":75,"y":6751},
{"p":3,"g":"o","x":74.6,"y":4930},{"p":3,"g":"o","x":74.8,"y":4860},{"p":3,"g":"o","x":74.93,"y":4550},{"p":3,"g":"o","x":74.96,"y":4260},{"p":3,"g":"o","x":74.9,"y":4060},{"p":3,"g":"o","x":74.75,"y":3880},{"p":3,"g":"o","x":74.62,"y":3830},{"p":3,"g":"o","x":74.56,"y":4150},{"p":3,"g":"o","x":74.58,"y":4550},{"p":3,"g":"o","x":74.6,"y":4930}
],
"dl": [
{"p":1,"g":"a","x":73.72,"y":3870},{"p":1,"g":"a","x":73.65,"y":3600},{"p":1,"g":"a","x":73.63,"y":3000},{"p":1,"g":"a","x":73.63,"y":2400},{"p":1,"g":"a","x":73.65,"y":1800},{"p":1,"g":"a","x":73.7,"y":1450},{"p":1,"g":"a","x":73.76,"y":1400},{"p":1,"g":"a","x":73.8,"y":1800},{"p":1,"g":"a","x":73.82,"y":2400},{"p":1,"g":"a","x":73.82,"y":3000},{"p":1,"g":"a","x":73.8,"y":3600},{"p":1,"g":"a","x":73.72,"y":3870},
{"p":1,"g":"b","x":73.73,"y":3300},{"p":1,"g":"b","x":73.69,"y":2900},{"p":1,"g":"b","x":73.68,"y":2400},{"p":1,"g":"b","x":73.7,"y":1900},{"p":1,"g":"b","x":73.74,"y":1750},{"p":1,"g":"b","x":73.77,"y":2100},{"p":1,"g":"b","x":73.77,"y":2800},{"p":1,"g":"b","x":73.73,"y":3300},
{"p":2,"g":"a","x":73.55,"y":3800},{"p":2,"g":"a","x":73.56,"y":3200},{"p":2,"g":"a","x":73.54,"y":2700},{"p":2,"g":"a","x":73.6,"y":2100},{"p":2,"g":"a","x":73.7,"y":1850},{"p":2,"g":"a","x":73.8,"y":2200},{"p":2,"g":"a","x":73.78,"y":2800},{"p":2,"g":"a","x":73.72,"y":3300},{"p":2,"g":"a","x":73.62,"y":3750},{"p":2,"g":"a","x":73.55,"y":3800},
{"p":3,"g":"a","x":71.05,"y":7400},{"p":3,"g":"a","x":71.12,"y":6800},{"p":3,"g":"a","x":71.2,"y":6250},{"p":3,"g":"a","x":71.27,"y":6800},{"p":3,"g":"a","x":71.34,"y":7400},
{"p":3,"g":"b","x":71.16,"y":7400},{"p":3,"g":"b","x":71.2,"y":6900},{"p":3,"g":"b","x":71.24,"y":7400},
{"p":3,"g":"c","x":71.6,"y":7400},{"p":3,"g":"c","x":71.65,"y":6900},{"p":3,"g":"c","x":71.72,"y":6500},{"p":3,"g":"c","x":71.82,"y":6220},{"p":3,"g":"c","x":71.95,"y":6160},
{"p":3,"g":"e","x":71.96,"y":7400},{"p":3,"g":"e","x":71.99,"y":6900},{"p":3,"g":"e","x":71.92,"y":6400},{"p":3,"g":"e","x":71.85,"y":6250},
{"p":3,"g":"f","x":73.16,"y":7400},{"p":3,"g":"f","x":73.19,"y":6176},{"p":3,"g":"f","x":73.28,"y":5218},{"p":3,"g":"f","x":73.37,"y":4500},{"p":3,"g":"f","x":73.52,"y":3781},{"p":3,"g":"f","x":73.58,"y":3302},{"p":3,"g":"f","x":73.58,"y":2234},{"p":3,"g":"f","x":73.52,"y":2100},{"p":3,"g":"f","x":73.4,"y":1950},{"p":3,"g":"f","x":73.3,"y":1500},{"p":3,"g":"f","x":73.1,"y":900},{"p":3,"g":"f","x":72.9,"y":600},{"p":3,"g":"f","x":72.7,"y":509},{"p":3,"g":"f","x":72.58,"y":600},{"p":3,"g":"f","x":72.55,"y":1200},{"p":3,"g":"f","x":72.56,"y":2000},{"p":3,"g":"f","x":72.6,"y":2500},{"p":3,"g":"f","x":72.7,"y":3000},{"p":3,"g":"f","x":72.74,"y":3300},{"p":3,"g":"f","x":72.76,"y":3800},{"p":3,"g":"f","x":72.8,"y":4500},{"p":3,"g":"f","x":72.83,"y":5500},{"p":3,"g":"f","x":72.86,"y":6500},{"p":3,"g":"f","x":72.87,"y":7400},
{"p":3,"g":"g","x":72.98,"y":4400},{"p":3,"g":"g","x":72.92,"y":4000},{"p":3,"g":"g","x":72.86,"y":3500},{"p":3,"g":"g","x":72.82,"y":3000},{"p":3,"g":"g","x":72.8,"y":2500},{"p":3,"g":"g","x":72.82,"y":2270},{"p":3,"g":"g","x":72.9,"y":2220},{"p":3,"g":"g","x":73.0,"y":2400},{"p":3,"g":"g","x":73.08,"y":3000},{"p":3,"g":"g","x":73.12,"y":3600},{"p":3,"g":"g","x":73.1,"y":4100},{"p":3,"g":"g","x":72.98,"y":4400},
{"p":3,"g":"h","x":72.95,"y":7400},{"p":3,"g":"h","x":72.97,"y":6500},{"p":3,"g":"h","x":73.0,"y":5500},{"p":3,"g":"h","x":73.05,"y":4700}
],
"sh": [
{"p":1,"g":"a","x":72.75,"y":1990},{"p":1,"g":"a","x":72.75,"y":5300},
{"p":1,"g":"b","x":71.91,"y":5010},{"p":1,"g":"b","x":71.91,"y":6950},
{"p":1,"g":"c","x":73.72,"y":3740},{"p":1,"g":"c","x":73.72,"y":1550},
{"p":2,"g":"a","x":71.86,"y":4524},{"p":2,"g":"a","x":71.86,"y":5850},
{"p":2,"g":"b","x":72.55,"y":2570},{"p":2,"g":"b","x":72.57,"y":6350},
{"p":2,"g":"c","x":73.66,"y":3541},{"p":2,"g":"c","x":73.6,"y":1850},
{"p":3,"g":"a","x":72.5,"y":3877},{"p":3,"g":"a","x":72.5,"y":7050},
{"p":3,"g":"b","x":71.78,"y":3541},{"p":3,"g":"b","x":71.79,"y":4950},
{"p":3,"g":"c","x":73.1,"y":4500},{"p":3,"g":"c","x":73.02,"y":3440},{"p":3,"g":"c","x":72.93,"y":2350}
],
"hd": [
{"p":1,"g":"a","x":72.22,"y":4770},{"p":1,"g":"a","x":72.75,"y":5350},{"p":1,"g":"a","x":73.42,"y":4800},
{"p":1,"g":"b","x":71.62,"y":6750},{"p":1,"g":"b","x":71.91,"y":7000},{"p":1,"g":"b","x":72.16,"y":6750},
{"p":1,"g":"c","x":73.12,"y":1875},{"p":1,"g":"c","x":73.72,"y":1480},{"p":1,"g":"c","x":73.96,"y":1830},
{"p":1,"g":"d","x":72.58,"y":70},{"p":1,"g":"d","x":73.51,"y":70},
{"p":2,"g":"a","x":71.65,"y":5659},{"p":2,"g":"a","x":71.88,"y":5913},{"p":2,"g":"a","x":72.16,"y":5659},
{"p":2,"g":"b","x":71.95,"y":5820},{"p":2,"g":"b","x":72.64,"y":6392},{"p":2,"g":"b","x":73.21,"y":5841},
{"p":2,"g":"c","x":73.36,"y":1994},{"p":2,"g":"c","x":73.6,"y":1779},{"p":2,"g":"c","x":73.87,"y":1970},
{"p":2,"g":"d","x":72.57,"y":70},{"p":2,"g":"d","x":73.51,"y":70},
{"p":3,"g":"a","x":71.89,"y":6583},{"p":3,"g":"a","x":72.5,"y":7134},{"p":3,"g":"a","x":73.12,"y":6598},
{"p":3,"g":"b","x":71.51,"y":4797},{"p":3,"g":"b","x":71.8,"y":5027},{"p":3,"g":"b","x":72.05,"y":4787},
{"p":3,"g":"c","x":72.5,"y":2617},{"p":3,"g":"c","x":72.89,"y":2234},{"p":3,"g":"c","x":73.39,"y":2617},
{"p":3,"g":"d","x":72.59,"y":70},{"p":3,"g":"d","x":73.55,"y":70}
],
"lb": [
{"p":1,"x":71.17,"y":6176,"t":"0.3"},{"p":1,"x":71.26,"y":5659,"t":"0.1"},{"p":1,"x":71.17,"y":5270,"t":"0.2"},{"p":1,"x":71.92,"y":7020,"t":"0.3"},{"p":1,"x":71.92,"y":5000,"t":"0.3"},{"p":1,"x":71.92,"y":4420,"t":"0.2"},{"p":1,"x":72.37,"y":6234,"t":"0.1"},{"p":1,"x":72.78,"y":7020,"t":"0.3"},{"p":1,"x":72.76,"y":6593,"t":"0.4"},{"p":1,"x":72.78,"y":6042,"t":"0.5"},{"p":1,"x":72.79,"y":5386,"t":"0.6"},{"p":1,"x":72.77,"y":4399,"t":"0.7"},{"p":1,"x":71.12,"y":1800,"t":"0.1"},{"p":1,"x":72.58,"y":1731,"t":"0.5"},{"p":1,"x":72.58,"y":1372,"t":"0.4"},{"p":1,"x":72.58,"y":1036,"t":"0.3"},{"p":1,"x":72.58,"y":696,"t":"0.2"},{"p":1,"x":73.33,"y":1132,"t":"0.1"},{"p":1,"x":73.67,"y":3853,"t":"-0.1"},{"p":1,"x":73.7,"y":2473,"t":"-0.2"},{"p":1,"x":73.7,"y":1370,"t":"-0.1"},{"p":1,"x":73.88,"y":2952,"t":"0"},{"p":1,"x":74.24,"y":2018,"t":"0"},{"p":1,"x":74.81,"y":1491,"t":"0"},{"p":1,"x":74.81,"y":4021,"t":"0"},
{"p":2,"x":72.58,"y":7326,"t":"0.4"},{"p":2,"x":72.59,"y":6502,"t":"0.5"},{"p":2,"x":72.04,"y":6234,"t":"0.2"},{"p":2,"x":71.86,"y":6008,"t":"0.3"},{"p":2,"x":71.1,"y":6090,"t":"1"},{"p":2,"x":72.61,"y":5530,"t":"0.6"},{"p":2,"x":74.25,"y":5003,"t":"0"},{"p":2,"x":74.53,"y":4883,"t":"0.1"},{"p":2,"x":73.51,"y":3805,"t":"-0.1"},{"p":2,"x":72.58,"y":3350,"t":"0.6"},{"p":2,"x":72.4,"y":2545,"t":"0.5"},{"p":2,"x":72.43,"y":1994,"t":"0.4"},{"p":2,"x":72.43,"y":1467,"t":"0.3"},{"p":2,"x":72.43,"y":1060,"t":"0.2"},{"p":2,"x":71.86,"y":485,"t":"0.1"},{"p":2,"x":73.3,"y":701,"t":"0.1"},{"p":2,"x":73.9,"y":3144,"t":"0"},{"p":2,"x":74.61,"y":308,"t":"0"},
{"p":3,"x":72.08,"y":6200,"t":"-0.1"},{"p":3,"x":71.27,"y":5817,"t":"0.1"},{"p":3,"x":72.08,"y":5266,"t":"0"},{"p":3,"x":71.93,"y":4883,"t":"0.1"},{"p":3,"x":71.33,"y":4643,"t":"0.1"},{"p":3,"x":71.87,"y":4428,"t":"0.2"},{"p":3,"x":72.38,"y":3853,"t":"0.3"},{"p":3,"x":74.42,"y":5721,"t":"0"},{"p":3,"x":74.6,"y":4931,"t":"0.1"},{"p":3,"x":72.2,"y":3240,"t":"0.2"},{"p":3,"x":72.89,"y":3311,"t":"-0.2"},{"p":3,"x":72.8,"y":2258,"t":"-0.2"},{"p":3,"x":73.55,"y":2067,"t":"-0.1"},{"p":3,"x":71.84,"y":1467,"t":"0.1"},{"p":3,"x":73.51,"y":1204,"t":"0"},{"p":3,"x":72.65,"y":509,"t":"-0.1"},{"p":3,"x":74.06,"y":3072,"t":"0"},{"p":3,"x":74.63,"y":78,"t":"0"}
]
},
"hconcat": [
{
 "width": 222, "height": 512,
 "title": {"text": "Vertical wind Control", "orient": "bottom"},
 "encoding": {
  "x": {"field": "x", "type": "quantitative", "scale": {"domain": [71, 75], "nice": false, "zero": false}, "axis": {"values": [71, 72, 73, 74, 75], "labelExpr": "datum.value + 'E'", "title": "longitude"}},
  "y": {"field": "y", "type": "quantitative", "scale": {"domain": [25, 7400], "nice": false, "zero": false}, "axis": {"values": [500, 1000, 1500, 2000, 2500, 3000, 3500, 4000, 4500, 5000, 5500, 6000, 6500, 7000], "title": "height(m)"}}
 },
 "layer": [
  {"data": {"name": "cl"}, "transform": [{"filter": "datum.p == 1"}], "mark": {"type": "line", "stroke": "#222", "strokeWidth": 1, "clip": true}, "encoding": {"detail": {"field": "g"}, "order": {"value": null}}},
  {"data": {"name": "dl"}, "transform": [{"filter": "datum.p == 1"}], "mark": {"type": "line", "stroke": "#222", "strokeWidth": 1, "strokeDash": [2, 2], "clip": true}, "encoding": {"detail": {"field": "g"}, "order": {"value": null}}},
  {"data": {"name": "lb"}, "transform": [{"filter": "datum.p == 1"}], "mark": {"type": "text", "font": "Liberation Mono", "fontSize": 13, "stroke": "white", "strokeWidth": 5, "fill": "white", "clip": true}, "encoding": {"text": {"field": "t"}}},
  {"data": {"name": "lb"}, "transform": [{"filter": "datum.p == 1"}], "mark": {"type": "text", "font": "Liberation Mono", "fontSize": 13, "fill": "#222", "clip": true}, "encoding": {"text": {"field": "t"}}},
  {"data": {"name": "sh"}, "transform": [{"filter": "datum.p == 1"}], "mark": {"type": "line", "stroke": "#000", "strokeWidth": 4.5, "strokeDash": [14, 5], "strokeCap": "butt", "clip": true}, "encoding": {"detail": {"field": "g"}, "order": {"value": null}}},
  {"data": {"name": "hd"}, "transform": [{"filter": "datum.p == 1"}], "mark": {"type": "line", "stroke": "#000", "strokeWidth": 3.5, "clip": true}, "encoding": {"detail": {"field": "g"}, "order": {"value": null}}}
 ]
},
{
 "width": 222, "height": 512,
 "title": {"text": "Vertical wind TEB", "orient": "bottom"},
 "encoding": {
  "x": {"field": "x", "type": "quantitative", "scale": {"domain": [71, 75], "nice": false, "zero": false}, "axis": {"values": [71, 72, 73, 74, 75], "labelExpr": "datum.value + 'E'", "title": "longitude"}},
  "y": {"field": "y", "type": "quantitative", "scale": {"domain": [25, 7400], "nice": false, "zero": false}, "axis": {"values": [500, 1000, 1500, 2000, 2500, 3000, 3500, 4000, 4500, 5000, 5500, 6000, 6500, 7000], "title": "height(m)"}}
 },
 "layer": [
  {"data": {"name": "cl"}, "transform": [{"filter": "datum.p == 2"}], "mark": {"type": "line", "stroke": "#222", "strokeWidth": 1, "clip": true}, "encoding": {"detail": {"field": "g"}, "order": {"value": null}}},
  {"data": {"name": "dl"}, "transform": [{"filter": "datum.p == 2"}], "mark": {"type": "line", "stroke": "#222", "strokeWidth": 1, "strokeDash": [2, 2], "clip": true}, "encoding": {"detail": {"field": "g"}, "order": {"value": null}}},
  {"data": {"name": "lb"}, "transform": [{"filter": "datum.p == 2"}], "mark": {"type": "text", "font": "Liberation Mono", "fontSize": 13, "stroke": "white", "strokeWidth": 5, "fill": "white", "clip": true}, "encoding": {"text": {"field": "t"}}},
  {"data": {"name": "lb"}, "transform": [{"filter": "datum.p == 2"}], "mark": {"type": "text", "font": "Liberation Mono", "fontSize": 13, "fill": "#222", "clip": true}, "encoding": {"text": {"field": "t"}}},
  {"data": {"name": "sh"}, "transform": [{"filter": "datum.p == 2"}], "mark": {"type": "line", "stroke": "#000", "strokeWidth": 4.5, "strokeDash": [14, 5], "strokeCap": "butt", "clip": true}, "encoding": {"detail": {"field": "g"}, "order": {"value": null}}},
  {"data": {"name": "hd"}, "transform": [{"filter": "datum.p == 2"}], "mark": {"type": "line", "stroke": "#000", "strokeWidth": 3.5, "clip": true}, "encoding": {"detail": {"field": "g"}, "order": {"value": null}}}
 ]
},
{
 "width": 222, "height": 512,
 "title": {"text": "TEB - Control", "orient": "bottom"},
 "encoding": {
  "x": {"field": "x", "type": "quantitative", "scale": {"domain": [71, 75], "nice": false, "zero": false}, "axis": {"values": [71, 72, 73, 74, 75], "labelExpr": "datum.value + 'E'", "title": "longitude"}},
  "y": {"field": "y", "type": "quantitative", "scale": {"domain": [25, 7400], "nice": false, "zero": false}, "axis": {"values": [500, 1000, 1500, 2000, 2500, 3000, 3500, 4000, 4500, 5000, 5500, 6000, 6500, 7000], "title": "height(m)"}}
 },
 "layer": [
  {"data": {"name": "cl"}, "transform": [{"filter": "datum.p == 3"}], "mark": {"type": "line", "stroke": "#222", "strokeWidth": 1, "clip": true}, "encoding": {"detail": {"field": "g"}, "order": {"value": null}}},
  {"data": {"name": "dl"}, "transform": [{"filter": "datum.p == 3"}], "mark": {"type": "line", "stroke": "#222", "strokeWidth": 1, "strokeDash": [2, 2], "clip": true}, "encoding": {"detail": {"field": "g"}, "order": {"value": null}}},
  {"data": {"name": "lb"}, "transform": [{"filter": "datum.p == 3"}], "mark": {"type": "text", "font": "Liberation Mono", "fontSize": 13, "stroke": "white", "strokeWidth": 5, "fill": "white", "clip": true}, "encoding": {"text": {"field": "t"}}},
  {"data": {"name": "lb"}, "transform": [{"filter": "datum.p == 3"}], "mark": {"type": "text", "font": "Liberation Mono", "fontSize": 13, "fill": "#222", "clip": true}, "encoding": {"text": {"field": "t"}}},
  {"data": {"name": "sh"}, "transform": [{"filter": "datum.p == 3"}], "mark": {"type": "line", "stroke": "#000", "strokeWidth": 4.5, "strokeDash": [14, 5], "strokeCap": "butt", "clip": true}, "encoding": {"detail": {"field": "g"}, "order": {"value": null}}},
  {"data": {"name": "hd"}, "transform": [{"filter": "datum.p == 3"}], "mark": {"type": "line", "stroke": "#000", "strokeWidth": 3.5, "clip": true}, "encoding": {"detail": {"field": "g"}, "order": {"value": null}}}
 ]
}
]
}
